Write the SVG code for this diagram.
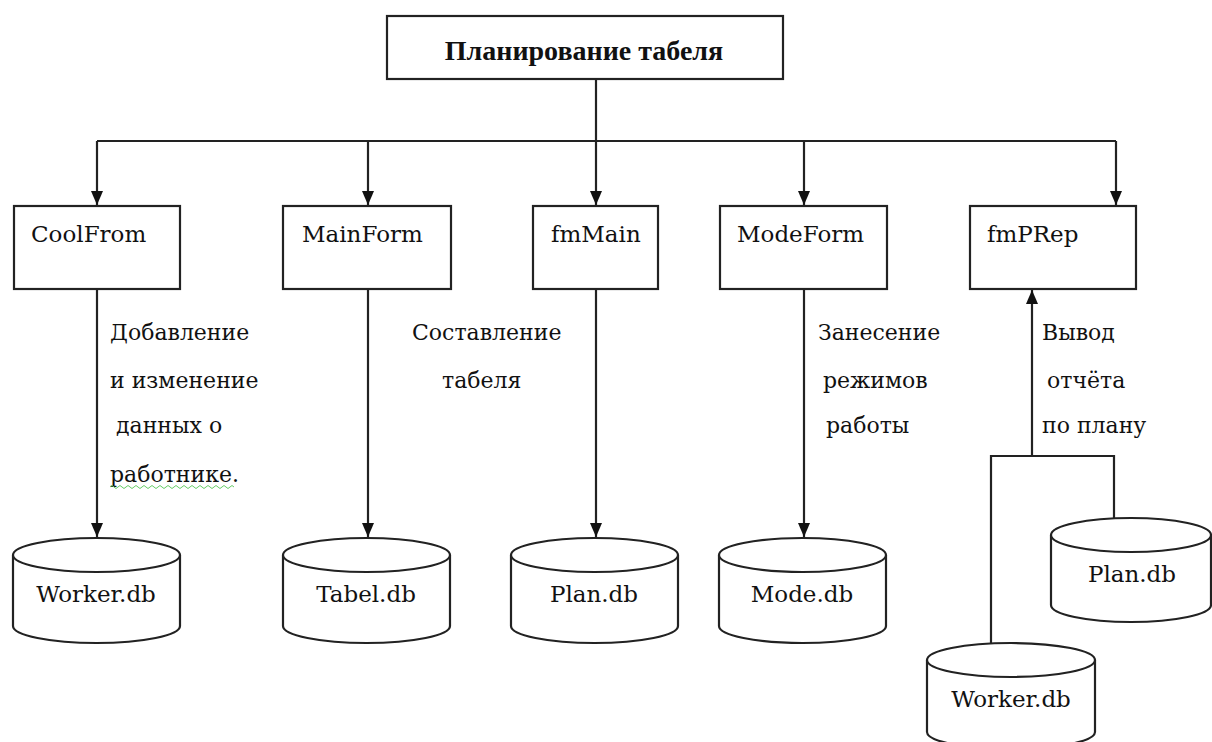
<svg xmlns="http://www.w3.org/2000/svg" width="1212" height="742" viewBox="0 0 1212 742">
<style>
.box{fill:#fff;stroke:#222;stroke-width:2.2}
.cyl{fill:#fff;stroke:#222;stroke-width:2.2}
.ln{fill:none;stroke:#222;stroke-width:2.2}
.t{font-family:"DejaVu Serif","Liberation Serif",serif;font-size:23px;fill:#111}
.lb{font-family:"DejaVu Serif","Liberation Serif",serif;font-size:22px;fill:#111}
.tb{font-family:"Liberation Serif","DejaVu Serif",serif;font-size:28px;font-weight:bold;fill:#111}
.c{text-anchor:middle}
</style>
<defs>
<marker id="ah" markerUnits="userSpaceOnUse" markerWidth="14" markerHeight="14" viewBox="0 0 14 14" refX="14" refY="7" orient="auto">
<path d="M0,1 L14,7 L0,13 Z" fill="#111"/>
</marker>
</defs>
<rect width="1212" height="742" fill="#fff"/>
<g id="connectors">
<path class="ln" d="M596,79 V141"/>
<path class="ln" d="M97,141 H1116"/>
<path class="ln" d="M97,141 V205" marker-end="url(#ah)"/>
<path class="ln" d="M368,141 V205" marker-end="url(#ah)"/>
<path class="ln" d="M596,141 V205" marker-end="url(#ah)"/>
<path class="ln" d="M804,141 V205" marker-end="url(#ah)"/>
<path class="ln" d="M1116,141 V205" marker-end="url(#ah)"/>
<path class="ln" d="M97,289 V537" marker-end="url(#ah)"/>
<path class="ln" d="M368,289 V537" marker-end="url(#ah)"/>
<path class="ln" d="M596,289 V537" marker-end="url(#ah)"/>
<path class="ln" d="M804,289 V537" marker-end="url(#ah)"/>
<path class="ln" d="M1114,518 V456 H991 V643"/>
<path class="ln" d="M1032,456 V290" marker-end="url(#ah)"/>
</g>
<g id="title">
<rect class="box" x="387" y="16" width="396" height="63"/>
<text class="tb c" x="584" y="60">Планирование табеля</text>
</g>
<g id="coolfrom">
<rect class="box" x="14" y="206" width="166" height="83"/>
<text class="t" x="31" y="242">CoolFrom</text>
</g>
<g id="mainform">
<rect class="box" x="283" y="206" width="168" height="83"/>
<text class="t" x="302" y="242">MainForm</text>
</g>
<g id="fmmain">
<rect class="box" x="533" y="206" width="125" height="83"/>
<text class="t" x="551" y="242">fmMain</text>
</g>
<g id="modeform">
<rect class="box" x="720" y="206" width="167" height="83"/>
<text class="t" x="737" y="242">ModeForm</text>
</g>
<g id="fmprep">
<rect class="box" x="970" y="206" width="166" height="83"/>
<text class="t" x="987" y="242">fmPRep</text>
</g>
<g id="labels">
<text class="lb" x="110" y="340">Добавление</text>
<text class="lb" x="110" y="388">и изменение</text>
<text class="lb" x="116" y="433">данных о</text>
<text class="lb" x="110" y="482">работнике.</text>
<path d="M110,487 q2,-3 4,0 t4,0 t4,0 t4,0 t4,0 t4,0 t4,0 t4,0 t4,0 t4,0 t4,0 t4,0 t4,0 t4,0 t4,0 t4,0 t4,0 t4,0 t4,0 t4,0 t4,0 t4,0 t4,0 t4,0 t4,0 t4,0 t4,0 t4,0 t4,0 t4,0 t4,0" fill="none" stroke="#6c6" stroke-width="1"/>
<text class="lb" x="412" y="340">Составление</text>
<text class="lb" x="442" y="388">табеля</text>
<text class="lb" x="818" y="340">Занесение</text>
<text class="lb" x="823" y="388">режимов</text>
<text class="lb" x="826" y="433">работы</text>
<text class="lb" x="1042" y="340">Вывод</text>
<text class="lb" x="1047" y="388">отчёта</text>
<text class="lb" x="1042" y="433">по плану</text>
</g>
<g id="worker1">
<path class="cyl" d="M13,555 V626 A83.5,17 0 0 0 180,626 V555"/>
<ellipse class="cyl" cx="96.5" cy="555" rx="83.5" ry="17"/>
<text class="t c" x="96" y="602">Worker.db</text>
</g>
<g id="tabel">
<path class="cyl" d="M283,555 V626 A83.5,17 0 0 0 450,626 V555"/>
<ellipse class="cyl" cx="366.5" cy="555" rx="83.5" ry="17"/>
<text class="t c" x="366" y="602">Tabel.db</text>
</g>
<g id="plan1">
<path class="cyl" d="M511,555 V626 A83.5,17 0 0 0 678,626 V555"/>
<ellipse class="cyl" cx="594.5" cy="555" rx="83.5" ry="17"/>
<text class="t c" x="594" y="602">Plan.db</text>
</g>
<g id="mode">
<path class="cyl" d="M719,555 V626 A83.5,17 0 0 0 886,626 V555"/>
<ellipse class="cyl" cx="802.5" cy="555" rx="83.5" ry="17"/>
<text class="t c" x="802" y="602">Mode.db</text>
</g>
<g id="plan2">
<path class="cyl" d="M1051,535 V605 A80,17 0 0 0 1211,605 V535"/>
<ellipse class="cyl" cx="1131" cy="535" rx="80" ry="17"/>
<text class="t c" x="1132" y="582">Plan.db</text>
</g>
<g id="worker2">
<path class="cyl" d="M927,660 V732 A84,17 0 0 0 1095,732 V660"/>
<ellipse class="cyl" cx="1011" cy="660" rx="84" ry="17"/>
<text class="t c" x="1011" y="707">Worker.db</text>
</g>
</svg>
